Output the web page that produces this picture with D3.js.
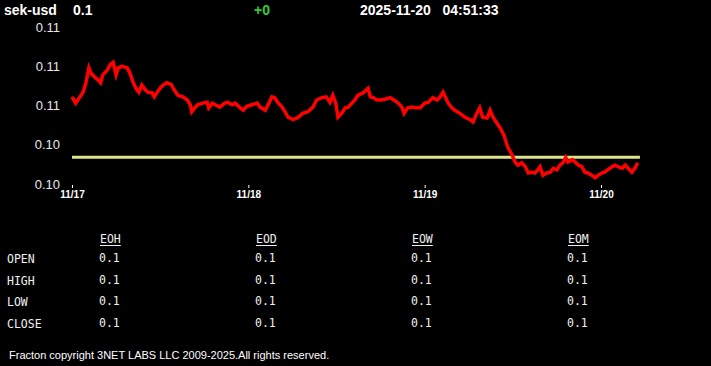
<!DOCTYPE html>
<html>
<head>
<meta charset="utf-8">
<script src="https://cdn.jsdelivr.net/npm/d3@7"></script>
<style>
body { margin:0; background:#000; }
svg { display:block; }
</style>
</head>
<body>
<svg id="chart" width="711" height="366"></svg>
<script>
// header
var symbol = 'sek-usd';
var lastPrice = '0.1';
var change = '+0';
var stamp = '2025-11-20   04:51:33';

// hours after 2025-11-17 00:00, price
var hours = [0.0,0.5,1.1,1.5,1.9,2.3,2.6,3.1,3.5,3.9,4.2,4.8,5.2,5.6,6.0,6.3,6.8,7.5,7.9,8.3,8.7,9.1,9.5,9.9,10.3,10.9,11.2,11.6,12.0,12.4,12.9,13.5,13.9,14.4,15.1,15.7,16.1,16.3,16.7,17.1,17.8,18.4,18.6,19.1,19.5,20.1,20.8,21.2,21.8,22.2,22.9,23.3,23.8,24.5,25.2,25.6,26.3,26.8,27.2,27.6,28.0,28.6,29.0,29.4,30.1,30.8,31.4,32.1,32.8,33.3,34.0,34.6,35.1,35.5,35.9,36.2,36.7,37.2,37.6,38.1,38.5,38.9,39.6,40.3,40.6,41.0,41.5,41.9,42.6,43.3,43.8,44.4,44.9,45.2,45.7,46.3,46.7,47.4,48.0,48.5,49.1,49.7,50.1,50.5,50.8,51.2,51.7,52.1,52.8,53.5,54.2,54.6,55.1,55.5,55.9,56.5,56.9,57.3,57.8,58.3,58.8,59.3,59.9,60.3,60.7,61.2,61.7,62.1,62.6,63.0,63.4,63.7,64.1,64.6,65.1,65.5,66.0,66.4,66.8,67.2,67.5,68.1,68.5,68.9,69.4,69.8,70.2,70.8,71.2,71.6,72.1,72.5,72.9,73.5,73.9,74.3,74.9,75.3,75.7,76.2,76.6,77.0];
var prices = [0.10561,0.10553,0.10561,0.10567,0.10579,0.10598,0.10591,0.10586,0.10583,0.10579,0.10589,0.10595,0.10602,0.10605,0.10589,0.10598,0.10600,0.10598,0.10591,0.10580,0.10572,0.10567,0.10576,0.10571,0.10567,0.10566,0.10561,0.10567,0.10572,0.10576,0.10579,0.10577,0.10570,0.10563,0.10561,0.10557,0.10551,0.10542,0.10547,0.10551,0.10553,0.10554,0.10547,0.10553,0.10551,0.10548,0.10553,0.10554,0.10551,0.10553,0.10547,0.10544,0.10549,0.10551,0.10553,0.10548,0.10544,0.10553,0.10561,0.10560,0.10554,0.10548,0.10542,0.10535,0.10532,0.10535,0.10540,0.10542,0.10548,0.10557,0.10560,0.10561,0.10554,0.10563,0.10553,0.10535,0.10540,0.10547,0.10548,0.10553,0.10557,0.10563,0.10566,0.10572,0.10561,0.10560,0.10557,0.10557,0.10558,0.10560,0.10557,0.10553,0.10548,0.10540,0.10547,0.10548,0.10547,0.10547,0.10553,0.10554,0.10560,0.10557,0.10561,0.10567,0.10561,0.10553,0.10547,0.10544,0.10540,0.10535,0.10532,0.10529,0.10540,0.10547,0.10535,0.10534,0.10544,0.10535,0.10528,0.10521,0.10512,0.10497,0.10487,0.10478,0.10474,0.10477,0.10472,0.10464,0.10465,0.10464,0.10468,0.10472,0.10461,0.10464,0.10465,0.10470,0.10468,0.10474,0.10477,0.10484,0.10478,0.10481,0.10478,0.10474,0.10472,0.10465,0.10464,0.10461,0.10458,0.10461,0.10464,0.10465,0.10468,0.10472,0.10474,0.10472,0.10470,0.10474,0.10470,0.10465,0.10470,0.10477];
var refPrice = 0.10484;   // yellow reference line
var refSpan = [0, 77.3];

var yTicks = [0.1045, 0.1050, 0.1055, 0.1060, 0.1065];
var yTickLabels = ['0.10', '0.10', '0.11', '0.11', '0.11'];
var xTickDays = ['2025-11-17', '2025-11-18', '2025-11-19', '2025-11-20'];
var xTickLabels = ['11/17', '11/18', '11/19', '11/20'];

// table
var tableCols = ['EOH', 'EOD', 'EOW', 'EOM'];
var tableRows = ['OPEN', 'HIGH', 'LOW', 'CLOSE'];
var tableVals = [['0.1','0.1','0.1','0.1'],['0.1','0.1','0.1','0.1'],['0.1','0.1','0.1','0.1'],['0.1','0.1','0.1','0.1']];
var footer = 'Fracton copyright 3NET LABS LLC 2009-2025.All rights reserved.';

var svg = d3.select('#chart');
svg.append('rect').attr('width', 711).attr('height', 366).attr('fill', '#000');

var parseDay = d3.timeParse('%Y-%m-%d');
var t0 = parseDay(xTickDays[0]);
var toDate = function(h) { return new Date(t0.getTime() + h * 3600000); };

var x = d3.scaleTime()
    .domain([t0, parseDay(xTickDays[3])])
    .range([72, 601]);
var y = d3.scaleLinear()
    .domain([0.1045, 0.1065])
    .range([184, 27]);

var data = hours.map(function(h, i) { return {date: toDate(h), price: prices[i]}; });

// header text
var hdr = svg.append('g').attr('font-family', 'Liberation Sans, Arial, sans-serif')
    .attr('font-weight', 'bold').attr('font-size', 14).attr('fill', '#fff');
hdr.append('text').attr('x', 4).attr('y', 15).text(symbol);
hdr.append('text').attr('x', 73).attr('y', 15).text(lastPrice);
hdr.append('text').attr('x', 254).attr('y', 15).attr('fill', '#33cc33').text(change);
hdr.append('text').attr('x', 360).attr('y', 15).style('white-space', 'pre').text(stamp);

// y axis
var yAxis = d3.axisLeft(y).tickValues(yTicks).tickSize(0).tickPadding(2)
    .tickFormat(function(d, i) { return yTickLabels[i]; });
svg.append('g').attr('transform', 'translate(62,0)').call(yAxis).call(function(g) {
    g.select('.domain').remove();
    g.selectAll('text').attr('fill', '#e8e8e8').attr('font-size', 13)
        .attr('font-family', 'Liberation Sans, Arial, sans-serif');
});

// x axis
var xAxis = d3.axisBottom(x).tickValues(xTickDays.map(parseDay)).tickSize(3).tickPadding(3)
    .tickFormat(function(d, i) { return xTickLabels[i]; });
svg.append('g').attr('transform', 'translate(0,185)').call(xAxis).call(function(g) {
    g.select('.domain').remove();
    g.selectAll('line').attr('stroke', '#fff');
    g.selectAll('text').attr('fill', '#fff').attr('font-size', 10).attr('font-weight', 'bold')
        .attr('font-family', 'Liberation Sans, Arial, sans-serif');
});

// reference line
svg.append('line')
    .attr('x1', x(toDate(refSpan[0]))).attr('x2', x(toDate(refSpan[1])))
    .attr('y1', y(refPrice)).attr('y2', y(refPrice))
    .attr('stroke', '#dce38c').attr('stroke-width', 3);

// price line
var line = d3.line().x(function(d) { return x(d.date); }).y(function(d) { return y(d.price); });
svg.append('path').datum(data)
    .attr('d', line)
    .attr('fill', 'none')
    .attr('stroke', '#ff0000')
    .attr('stroke-width', 3.5)
    .attr('stroke-linejoin', 'miter');

// table
var tbl = svg.append('g').attr('font-family', 'DejaVu Sans Mono, monospace').attr('font-size', 11.5).attr('fill', '#f0f0f0');
var colX = d3.scalePoint().domain(tableCols).range([100, 568]);
var rowY = d3.scalePoint().domain(tableRows).range([263, 328]);
tableCols.forEach(function(c, j) {
    var t = tbl.append('text').attr('x', colX(c)).attr('y', 243).text(c);
    var w = t.node().getComputedTextLength();
    tbl.append('line').attr('x1', colX(c)).attr('x2', colX(c) + w)
        .attr('y1', 245.5).attr('y2', 245.5).attr('stroke', '#f0f0f0').attr('stroke-width', 1);
});
tableRows.forEach(function(r, i) {
    tbl.append('text').attr('x', 7).attr('y', rowY(r)).text(r);
    tableCols.forEach(function(c, j) {
        tbl.append('text').attr('x', colX(c) - 1).attr('y', rowY(r) - 1).text(tableVals[i][j]);
    });
});

svg.append('text').attr('x', 9).attr('y', 359)
    .attr('font-family', 'Liberation Sans, Arial, sans-serif').attr('font-size', 11)
    .attr('fill', '#fff').text(footer);
</script>
</body>
</html>
